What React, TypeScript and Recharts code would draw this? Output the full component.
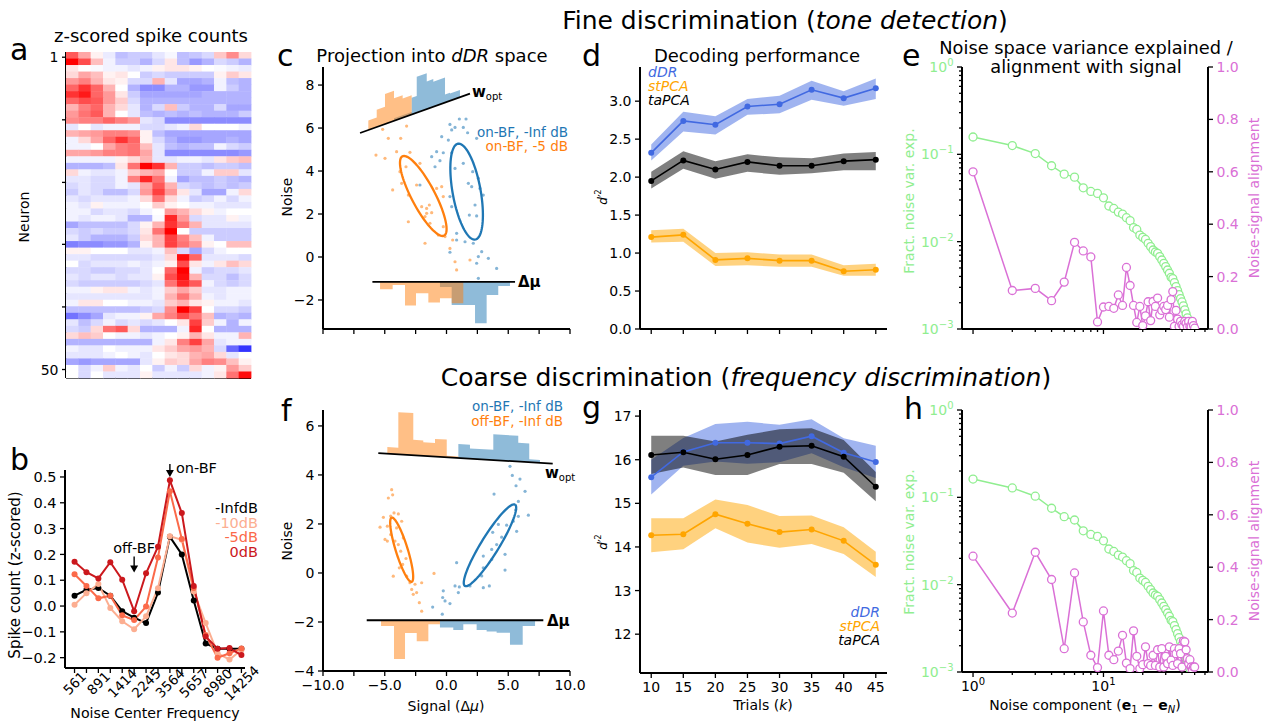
import React from 'react';
import { ComposedChart, Scatter, Line, Area, XAxis, YAxis } from 'recharts';

const FONT = '"DejaVu Sans", sans-serif';
const BLUE = '#1f77b4';
const ORANGE = '#ff7f0e';
const ROYAL = '#4169e1';
const GOLD = '#ffa500';
const LGREEN = '#90ee90';
const ORCHID = '#da70d6';

// ================= Panel a: z-scored spike counts (50 neurons x 15 frequencies) =================
const heatRows: number[][] = [
  [0.65, 0.35, 0.05, -0.08, -0.25, -0.2, -0.2, -0.1, -0.03, -0.25, -0.22, -0.15, 0.22, 0.45, 0.15],
  [1.0, 0.7, 0.25, -0.05, -0.2, -0.2, -0.3, -0.15, 0.1, -0.25, -0.4, -0.3, -0.15, -0.2, -0.3],
  [0.1, 0.0, -0.02, -0.05, -0.05, -0.1, -0.05, 0.05, 0.1, 0.1, 0.05, 0.0, -0.02, -0.05, -0.08],
  [0.15, 0.35, 0.25, 0.05, 0.1, 0.0, -0.2, -0.15, -0.2, -0.2, -0.2, -0.2, 0.05, 0.2, 0.1],
  [0.4, 0.5, 0.3, 0.1, 0.05, -0.15, -0.15, 0.3, -0.1, -0.35, -0.35, -0.3, -0.05, -0.25, -0.3],
  [0.6, 0.8, 0.6, 0.3, 0.0, -0.3, -0.45, -0.45, -0.3, -0.3, -0.4, -0.4, -0.05, -0.2, -0.3],
  [0.8, 0.9, 0.6, 0.4, 0.1, -0.2, -0.35, -0.35, -0.35, -0.35, -0.35, -0.3, -0.3, -0.3, -0.3],
  [0.6, 0.7, 0.65, 0.4, 0.2, -0.15, -0.3, -0.3, -0.3, -0.3, -0.3, -0.3, -0.3, -0.3, -0.3],
  [0.3, 0.5, 0.6, 0.3, 0.15, -0.1, -0.3, -0.15, 0.25, -0.2, -0.3, -0.3, -0.15, -0.35, -0.35],
  [0.4, 0.55, 0.65, 0.3, 0.0, -0.1, -0.25, -0.3, -0.25, -0.3, -0.25, -0.3, -0.3, -0.3, -0.2],
  [0.45, 0.5, 0.5, 0.6, 0.5, 0.4, -0.1, -0.15, -0.45, -0.45, -0.45, -0.45, -0.45, -0.45, -0.45],
  [-0.1, 0.0, -0.1, -0.05, -0.05, -0.05, -0.15, -0.15, -0.1, -0.05, 0.15, 0.0, 0.0, 0.0, -0.05],
  [0.3, 0.35, 0.4, 0.5, 0.5, 0.45, 0.05, -0.25, -0.35, -0.35, -0.35, -0.35, -0.35, -0.35, -0.35],
  [-0.05, 0.15, 0.35, 0.6, 0.8, 0.6, 0.05, -0.15, -0.3, -0.4, -0.4, -0.35, -0.35, -0.3, -0.35],
  [-0.05, -0.05, 0.0, 0.35, 0.5, 0.55, 0.25, -0.1, -0.25, -0.3, -0.25, -0.25, -0.05, -0.15, -0.2],
  [0.35, 0.35, 0.4, 0.5, 0.5, 0.55, 0.35, -0.1, -0.45, -0.45, -0.45, -0.45, -0.45, -0.45, -0.4],
  [-0.05, -0.05, -0.05, -0.05, 0.05, 0.15, 0.3, -0.1, -0.1, -0.05, -0.05, -0.1, 0.1, 0.2, 0.25],
  [-0.3, -0.3, -0.3, -0.25, 0.1, 0.55, 1.0, 0.8, 0.3, -0.2, -0.2, -0.25, -0.2, -0.2, -0.25],
  [0.15, -0.05, -0.1, -0.1, -0.05, 0.2, 0.3, 0.35, 0.0, -0.2, -0.2, -0.05, 0.2, 0.2, -0.1],
  [-0.1, -0.1, -0.15, -0.15, -0.05, 0.5, 0.85, 0.55, -0.05, -0.35, -0.25, -0.25, -0.2, -0.25, -0.3],
  [-0.15, -0.1, -0.15, -0.15, -0.05, -0.1, 0.35, 0.65, 0.3, -0.15, -0.2, -0.25, -0.2, -0.25, -0.2],
  [-0.2, -0.1, -0.15, -0.25, -0.25, -0.15, 0.4, 0.75, 0.4, 0.1, -0.1, -0.35, -0.35, -0.05, 0.15],
  [-0.1, -0.15, -0.1, -0.1, -0.1, -0.05, 0.15, 0.55, 0.15, -0.05, -0.2, -0.15, -0.05, -0.15, -0.05],
  [-0.05, -0.1, 0.05, -0.05, -0.05, -0.05, 0.0, 0.2, 0.05, 0.0, -0.05, -0.05, -0.1, -0.1, -0.1],
  [-0.05, -0.05, -0.15, -0.1, -0.1, -0.15, -0.05, 0.0, 0.4, 0.3, 0.15, 0.05, -0.05, 0.0, 0.0],
  [-0.05, -0.1, -0.05, -0.05, -0.1, -0.3, -0.3, -0.02, 0.85, 0.4, -0.15, -0.1, -0.1, 0.05, -0.05],
  [-0.35, -0.25, -0.25, -0.25, -0.25, -0.15, 0.05, 0.3, 0.8, 0.55, 0.3, -0.1, -0.1, -0.1, -0.1],
  [-0.15, -0.2, -0.15, -0.2, -0.2, -0.15, 0.1, 0.55, 1.0, 0.0, -0.2, -0.2, -0.2, -0.2, -0.2],
  [-0.1, -0.2, -0.3, -0.3, -0.3, -0.2, 0.15, 0.3, 0.75, 0.5, 0.25, -0.05, -0.2, -0.2, -0.2],
  [-0.5, -0.45, -0.45, -0.4, -0.4, -0.3, 0.05, 0.3, 0.75, 0.55, 0.4, 0.05, 0.0, 0.25, 0.25],
  [0.05, 0.05, 0.0, 0.0, 0.0, -0.1, -0.1, -0.05, 0.25, -0.15, -0.35, -0.15, -0.05, 0.0, 0.0],
  [-0.1, -0.1, -0.15, -0.15, -0.15, -0.15, -0.15, -0.1, 0.15, 0.95, 0.6, -0.1, -0.1, -0.1, -0.15],
  [0.0, -0.15, -0.1, -0.1, -0.1, -0.05, -0.1, -0.05, 0.05, 0.7, 0.1, -0.05, 0.1, 0.25, 0.15],
  [-0.15, -0.15, -0.2, -0.2, -0.15, -0.15, -0.1, 0.0, 0.6, 1.0, -0.05, -0.2, -0.15, -0.15, -0.1],
  [-0.1, -0.15, -0.1, -0.1, -0.15, -0.1, -0.1, 0.05, 0.7, 0.95, 0.3, -0.15, -0.15, -0.25, -0.15],
  [-0.15, -0.2, -0.2, -0.2, -0.2, -0.2, -0.15, -0.1, 0.55, 0.85, 0.65, -0.05, -0.15, -0.2, -0.15],
  [-0.05, -0.05, 0.05, 0.1, 0.1, -0.05, -0.1, -0.05, 0.2, 0.35, 0.2, -0.1, -0.1, -0.05, -0.05],
  [-0.1, -0.1, -0.1, -0.1, -0.1, -0.1, -0.1, -0.05, 0.3, 0.55, 0.3, -0.05, -0.1, -0.05, -0.05],
  [-0.05, 0.1, 0.1, 0.0, 0.0, -0.05, -0.05, -0.1, 0.2, 0.3, 0.1, 0.05, -0.05, -0.05, -0.1],
  [-0.25, -0.25, -0.25, -0.25, -0.25, -0.25, -0.2, -0.15, 0.45, 1.0, 0.75, 0.0, -0.15, -0.15, -0.2],
  [-0.55, -0.45, -0.35, -0.1, -0.05, -0.05, 0.05, 0.35, 0.5, 0.7, 0.55, 0.25, -0.3, -0.25, -0.3],
  [-0.1, -0.25, -0.15, -0.05, -0.15, -0.1, -0.15, -0.1, 0.0, 0.1, 0.75, 0.2, -0.05, -0.3, -0.05],
  [-0.15, -0.2, 0.15, 0.55, 0.65, 0.15, -0.3, -0.3, -0.3, -0.05, 0.85, 0.0, -0.3, -0.3, -0.3],
  [0.15, 0.25, 0.2, 0.0, -0.05, -0.05, -0.1, -0.05, 0.0, 0.05, 0.3, 0.1, -0.05, -0.05, 0.3],
  [-0.3, -0.3, -0.3, -0.3, -0.3, -0.3, -0.3, -0.05, 0.1, 0.5, 0.75, 0.35, -0.1, -0.05, -0.05],
  [-0.05, -0.1, -0.1, 0.0, -0.05, -0.05, -0.05, 0.1, 0.2, 0.35, 0.4, 0.3, -0.15, -0.6, -0.8],
  [-0.1, -0.1, -0.1, -0.05, 0.0, -0.05, -0.1, 0.0, 0.1, 0.15, 0.3, 0.35, 0.15, -0.1, 0.0],
  [-0.35, -0.4, -0.35, -0.35, -0.35, -0.35, -0.1, 0.05, 0.2, 0.15, 0.35, 0.5, 0.45, 0.25, 0.05],
  [0.0, -0.15, -0.05, 0.2, -0.05, -0.1, 0.0, -0.2, -0.05, -0.2, 0.15, -0.05, 0.05, 0.4, 0.2],
  [0.0, -0.15, 0.0, -0.1, -0.1, -0.1, 0.05, -0.1, -0.1, -0.1, -0.1, -0.05, 0.1, 0.55, 0.95],
];
const neuronTicks = [0.3, 9.9, 19.5, 29.0, 38.6, 48.2];
const neuronTickLabels = ['1', '', '', '', '', '50'];

// ================= Panel b: tuning curves =================
const freqLabels = ['561', '707', '891', '1122', '1414', '1782', '2245', '2828', '3564', '4490', '5657', '7127', '8980', '11314', '14254'];
const freqTickIdx = [0, 1, 2, 3, 4, 5, 6, 7, 8, 9, 10, 11, 12, 13, 14];
const respInfdB = [0.04, 0.063, 0.07, 0.04, -0.02, -0.045, -0.066, 0.052, 0.268, 0.2, 0.021, -0.145, -0.165, -0.165, -0.165];
const resp10dB = [0.005, 0.05, 0.085, -0.008, -0.059, -0.09, -0.04, 0.069, 0.27, 0.257, 0.056, -0.066, -0.183, -0.207, -0.17];
const resp5dB = [0.123, 0.078, 0.03, 0.04, -0.036, -0.054, -0.002, 0.188, 0.445, 0.26, 0.07, -0.112, -0.2, -0.183, -0.164];
const resp0dB = [0.172, 0.131, 0.107, 0.17, 0.102, -0.02, 0.127, 0.23, 0.487, 0.36, 0.078, -0.118, -0.165, -0.163, -0.19];
const bSeriesNames = ['-InfdB', '-10dB', '-5dB', '0dB'];
const bSeriesColors = ['#000000', '#fcae91', '#fb6a4a', '#cb181d'];
const bArrows = [
  { x: 8, y: 0.5, len: 13, label: 'on-BF', side: 'right' },
  { x: 5, y: 0.13, len: 16, label: 'off-BF', side: 'top' },
];

// ================= Panel c / f: dDR projections =================
const cOrangePts = [[-5.17, 5.94], [-4.71, 5.52], [-3.71, 5.52], [-3.23, 6.09], [-5.71, 4.74], [-4.98, 4.59], [-4.04, 4.9], [-2.96, 4.87], [-3.28, 4.2], [-4.36, 3.12], [-3.77, 3.97], [-2.15, 4.36], [-3.63, 3.43], [-3.09, 2.88], [-2.42, 3.35], [-2.01, 2.34], [-1.61, 2.26], [-1.39, 2.42], [-1.61, 2.03], [-1.2, 2.06], [-0.8, 3.19], [-0.39, 3.27], [-0.26, 2.81], [-1.34, 1.57], [-1.74, 1.88], [-3.09, 1.64], [-0.66, 1.02], [-0.12, 0.95], [0.5, 0.79], [-0.26, 1.41], [-1.74, 0.64], [1.9, -0.14], [0.69, -0.22], [0.82, -0.6], [0.28, 0.4]];
const cBluePts = [[0.28, 6.17], [0.69, 6.03], [1.04, 6.42], [1.58, 6.42], [1.36, 6.03], [0.42, 5.91], [1.71, 5.78], [-0.39, 5.6], [0.15, 5.44], [2.44, 5.52], [-0.8, 4.9], [-0.26, 4.85], [0.42, 4.85], [-1.2, 4.67], [-0.53, 4.48], [-0.93, 4.2], [1.36, 4.36], [0.69, 4.12], [2.12, 3.97], [2.58, 3.66], [1.77, 3.43], [2.04, 3.27], [2.98, 2.88], [2.71, 3.19], [2.31, 2.42], [2.44, 1.91], [1.85, 1.95], [0.42, 2.34], [0.28, 2.81], [-2.15, 3.35], [0.82, 1.1], [0.82, 0.79], [2.17, 0.64], [1.5, 0.71], [0.28, 0.22], [2.85, 0.25], [2.58, 0.02], [3.39, -0.06], [4.06, -0.53], [2.58, -0.99], [2.44, -0.29]];
const fOrangePts = [[-4.44, 3.4], [-4.36, 3.19], [-4.71, 3.06], [-5.11, 2.27], [-5.38, 1.87], [-4.79, 1.91], [-4.52, 2.32], [-4.25, 2.45], [-3.9, 2.41], [-3.63, 2.11], [-4.04, 1.84], [-4.52, 1.57], [-4.17, 1.3], [-3.9, 1.16], [-3.5, 1.43], [-3.71, 0.89], [-3.28, 0.59], [-3.55, 0.35], [-4.31, -0.13], [-3.82, 0.21], [-3.23, -0.13], [-2.96, -0.4], [-2.55, -0.46], [-2.82, -0.67], [-2.69, -0.87], [-2.42, -0.8], [-2.01, -0.4], [-2.2, -1.21], [-2.01, -1.56], [-1.01, -0.02], [-4.79, 1.3], [-4.98, 1.37]];
const fBluePts = [[5.14, 4.35], [5.33, 3.98], [5.95, 3.83], [5.63, 3.56], [3.85, 3.22], [6.36, 3.33], [5.82, 2.92], [5.6, 2.58], [5.82, 2.31], [6.63, 2.36], [5.41, 2.11], [4.87, 1.95], [5.68, 1.7], [4.2, 1.98], [3.74, 1.66], [4.47, 1.46], [4.06, 1.16], [3.66, 0.96], [4.74, 0.76], [2.98, 0.69], [3.66, 0.55], [2.98, 0.21], [4.74, 0.12], [2.85, -0.12], [0.82, 0.42], [0.69, -0.53], [1.04, -0.57], [0.96, -0.8], [1.9, -0.53], [2.98, -0.6], [3.47, -0.53], [-0.26, -0.73], [-0.31, -1.0], [0.28, -1.25], [-0.12, -1.14], [-1.12, -1.39], [-0.34, -1.68]];

// covariance ellipses: center, major half-axis vector, minor half-axis vector (data units)
const cOrangeEllipse = { c: [-1.88, 2.84], a: [1.69, -1.845], b: [0.84, 0.253] };
const cBlueEllipse = { c: [1.63, 3.04], a: [0.7, -2.23], b: [1.117, 0.116] };
const fOrangeEllipse = { c: [-3.63, 0.95], a: [-0.81, 1.31], b: [0.46, 0.072] };
const fBlueEllipse = { c: [3.52, 1.13], a: [2.03, 1.66], b: [0.62, -0.19] };

// axis lines (w_opt and delta-mu), endpoints in data units
const cWoptX = [-7.0, 1.9];
const cWoptY = [5.77, 7.6];
const cDmuX = [-6.0, 5.55];
const cDmuY = [-1.16, -1.16];
const fWoptX = [-5.52, 8.6];
const fWoptY = [4.89, 4.46];
const fDmuX = [-6.46, 7.84];
const fDmuY = [-1.93, -1.93];

// projection histograms: bin edges along x and bar heights (data units)
const cTopOrangeEdges = [-6.33, -5.65, -4.98, -4.25, -3.55, -2.82];
const cTopOrangeH = [0.44, 0.8, 1.4, 1.05, 0.9];
const cTopBlueEdges = [-4.25, -2.82, -2.41, -1.6, -1.07, -0.12, 0.28, 1.09];
const cTopBlueH = [0.12, 0.78, 1.67, 1.29, 1.17, 0.38, 0.34];
const cBotOrangeEdges = [-5.38, -4.36, -3.36, -2.47, -1.47, -0.53, 0.42, 1.36];
const cBotOrangeH = [0.34, 0.14, 1.1, 0.53, 0.96, 0.76, 0.99];
const cBotBlueEdges = [-0.53, 0.42, 1.36, 2.31, 3.25, 4.19, 5.14];
const cBotBlueH = [0.24, 1.07, 1.07, 1.92, 0.61, 0.19];
const fTopOrangeEdges = [-4.79, -3.9, -2.69, -1.88, -0.93, 0.02, 0.96];
const fTopOrangeH = [0.27, 1.72, 0.63, 0.55, 0.72, 0.06];
const fTopBlueEdges = [0.96, 1.9, 3.79, 5.81, 6.7, 7.57];
const fTopBlueH = [0.57, 0.42, 1.05, 0.77, 0.12];
const fBotOrangeEdges = [-5.3, -4.25, -3.36, -2.41, -1.47, -0.53];
const fBotOrangeH = [0.23, 1.58, 0.52, 0.86, 0.16];
const fBotBlueEdges = [-0.53, 0.55, 1.36, 2.44, 3.25, 4.06, 5.14, 6.17, 7.17];
const fBotBlueH = [0.29, 0.4, 0.16, 0.4, 0.46, 0.51, 1.0, 0.23];

const signalTicks = [-10, -7.5, -5, -2.5, 0, 2.5, 5, 7.5, 10];

// ================= Panel d / g: decoding performance =================
const trials = [10, 15, 20, 25, 30, 35, 40, 45];
const dDRfine = [2.32, 2.74, 2.69, 2.93, 2.96, 3.15, 3.04, 3.17];
const dDRfineLo = [2.22, 2.6, 2.56, 2.82, 2.84, 3.02, 2.94, 3.03];
const dDRfineHi = [2.43, 2.86, 2.8, 3.03, 3.07, 3.27, 3.13, 3.3];
const stPCAfine = [1.21, 1.24, 0.91, 0.93, 0.9, 0.9, 0.76, 0.78];
const stPCAfineLo = [1.14, 1.15, 0.83, 0.84, 0.82, 0.82, 0.7, 0.7];
const stPCAfineHi = [1.3, 1.32, 1.0, 1.01, 0.98, 0.98, 0.84, 0.86];
const taPCAfine = [1.95, 2.22, 2.1, 2.2, 2.15, 2.15, 2.21, 2.23];
const taPCAfineLo = [1.85, 2.11, 1.98, 2.07, 2.03, 2.05, 2.09, 2.09];
const taPCAfineHi = [2.07, 2.34, 2.21, 2.3, 2.26, 2.25, 2.31, 2.33];

const dDRcoarse = [15.6, 16.18, 16.39, 16.39, 16.37, 16.54, 16.16, 15.95];
const dDRcoarseLo = [15.2, 15.86, 15.96, 15.91, 15.94, 16.15, 15.83, 15.58];
const dDRcoarseHi = [16.0, 16.5, 16.82, 16.87, 16.8, 16.93, 16.49, 16.32];
const stPCAcoarse = [14.27, 14.29, 14.75, 14.53, 14.34, 14.4, 14.14, 13.59];
const stPCAcoarseLo = [13.88, 13.95, 14.43, 14.1, 13.98, 14.07, 13.84, 13.31];
const stPCAcoarseHi = [14.66, 14.66, 15.09, 14.96, 14.71, 14.72, 14.45, 13.89];
const taPCAcoarse = [16.11, 16.17, 16.01, 16.11, 16.3, 16.32, 16.07, 15.38];
const taPCAcoarseLo = [15.67, 15.82, 15.65, 15.65, 15.9, 15.9, 15.7, 15.05];
const taPCAcoarseHi = [16.55, 16.55, 16.42, 16.57, 16.7, 16.72, 16.45, 15.72];

// ================= Panel e / h: noise space =================
const components = Array.from({ length: 50 }, (_, i) => i + 1);
const varExpFine = [0.158, 0.126, 0.102, 0.074, 0.0593, 0.0548, 0.0414, 0.0376, 0.0357, 0.0318, 0.0256, 0.024, 0.0218, 0.0207, 0.0188, 0.0174, 0.0145, 0.0138, 0.0119, 0.0112, 0.0106, 0.00957, 0.00877, 0.00803, 0.00762, 0.00736, 0.00674, 0.00617, 0.00565, 0.00518, 0.00474, 0.00435, 0.00391, 0.00378, 0.0034, 0.00306, 0.00275, 0.00248, 0.00223, 0.00204, 0.00184, 0.00166, 0.00149, 0.00134, 0.00121, 0.00109, 0.00095, 0.00082, 0.0007, 0.0006];
const alignFine = [0.6, 0.147, 0.155, 0.108, 0.179, 0.331, 0.298, 0.275, 0.027, 0.084, 0.086, 0.079, 0.13, 0.09, 0.235, 0.166, 0.09, 0.025, 0.086, 0.013, 0.05, 0.104, 0.032, 0.105, 0.086, 0.118, 0.054, 0.071, 0.086, 0.074, 0.09, 0.045, 0.112, 0.143, 0.01, 0.071, 0.038, 0.01, 0.029, 0.016, 0.01, 0.029, 0.022, 0.008, 0.029, 0.01, 0.008, 0.029, 0.013, 0.003];
const varExpCoarse = [0.162, 0.128, 0.103, 0.075, 0.06, 0.055, 0.0414, 0.0376, 0.0357, 0.0318, 0.0256, 0.024, 0.0218, 0.0207, 0.0188, 0.0174, 0.0145, 0.0138, 0.0119, 0.0112, 0.0106, 0.00957, 0.00877, 0.00803, 0.00762, 0.00736, 0.00674, 0.00617, 0.00565, 0.00518, 0.00474, 0.00435, 0.00391, 0.00378, 0.0034, 0.00306, 0.00275, 0.00248, 0.00223, 0.00204, 0.00184, 0.00166, 0.00149, 0.00134, 0.00121, 0.00109, 0.00095, 0.00082, 0.0007, 0.0006];
const alignCoarse = [0.442, 0.225, 0.457, 0.353, 0.089, 0.378, 0.191, 0.064, 0.017, 0.233, 0.064, 0.047, 0.08, 0.14, 0.034, 0.013, 0.157, 0.06, 0.013, 0.028, 0.096, 0.032, 0.025, 0.064, 0.025, 0.085, 0.019, 0.089, 0.019, 0.06, 0.032, 0.096, 0.045, 0.025, 0.089, 0.07, 0.032, 0.089, 0.07, 0.019, 0.118, 0.115, 0.085, 0.051, 0.032, 0.047, 0.019, 0.009, 0.019, 0.019];
const logXTicks = [1, 2, 3, 4, 5, 6, 7, 8, 9, 10, 20, 30, 40, 50, 60];
const logYTicks = [0.001, 0.002, 0.003, 0.004, 0.005, 0.006, 0.007, 0.008, 0.009, 0.01, 0.02, 0.03, 0.04, 0.05, 0.06, 0.07, 0.08, 0.09, 0.1, 0.2, 0.3, 0.4, 0.5, 0.6, 0.7, 0.8, 0.9, 1];
const alignTicks = [0, 0.2, 0.4, 0.6, 0.8, 1.0];

// ================= helpers =================
const AX = { stroke: '#000', strokeWidth: 2 };
const PL = 80, PR = 80, PT = 20, PB = 70;

const minus = (s: string) => s.replace('-', '\u2212');
const f1 = (v: number) => minus(v.toFixed(1));
const isMajorLog = (v: number) => Math.abs(Math.log10(v) - Math.round(Math.log10(v))) < 1e-9;
const pow10 = (v: number) => {
  const e = Math.round(Math.log10(v));
  return (
    <>
      <tspan>10</tspan>
      <tspan dy={-6} fontSize={10}>{e < 0 ? '\u2212' + -e : String(e)}</tspan>
    </>
  );
};

const mkTick = (cfg: any) => (p: any) => {
  const x = Number(p.x), y = Number(p.y);
  const v = Number(p.payload && p.payload.value);
  const L = cfg.len ? cfg.len(v) : 5;
  const lab = cfg.fmt ? cfg.fmt(v) : null;
  const has = lab !== null && lab !== undefined && lab !== '';
  const fs = cfg.fs || 14;
  const col = cfg.color || '#000';
  const tl = { stroke: '#000', strokeWidth: 1.3 };
  if (cfg.side === 'left') {
    return (
      <g>
        {L > 0 ? <line x1={x} y1={y} x2={x - L} y2={y} {...tl} /> : null}
        {has ? <text x={x - L - 3.5} y={y} dy="0.36em" textAnchor="end" fontSize={fs} fill={col} fontFamily={FONT}>{lab}</text> : null}
      </g>
    );
  }
  if (cfg.side === 'right') {
    return (
      <g>
        {L > 0 ? <line x1={x} y1={y} x2={x + L} y2={y} {...tl} /> : null}
        {has ? <text x={x + L + 3.5} y={y} dy="0.36em" textAnchor="start" fontSize={fs} fill={col} fontFamily={FONT}>{lab}</text> : null}
      </g>
    );
  }
  if (cfg.rot) {
    const cx = x, cy = y + cfg.rotOffset;
    return (
      <g>
        <line x1={x} y1={y} x2={x} y2={y + L} {...tl} />
        {has ? <text x={cx} y={cy} textAnchor="middle" dominantBaseline="central" transform={`rotate(-45 ${cx} ${cy})`} fontSize={fs} fill={col} fontFamily={FONT}>{lab}</text> : null}
      </g>
    );
  }
  return (
    <g>
      {L > 0 ? <line x1={x} y1={y} x2={x} y2={y + L} {...tl} /> : null}
      {has ? <text x={x} y={y + L + 3.5} dy="0.76em" textAnchor="middle" fontSize={fs} fill={col} fontFamily={FONT}>{lab}</text> : null}
    </g>
  );
};

const bwr = (v: number) => {
  const t = Math.max(-1, Math.min(1, v));
  if (t >= 0) {
    const g = Math.round(255 * (1 - t));
    return `rgb(255,${g},${g})`;
  }
  const g = Math.round(255 * (1 + t));
  return `rgb(${g},${g},255)`;
};

const toXY = (pts: number[][]) => pts.map(([x, y]) => ({ x, y }));
const seriesXY = (xs: number[], ys: number[]) => ys.map((y, i) => ({ x: xs[i], y }));
const ellipsePts = (e: any) => {
  const out: any[] = [];
  for (let k = 0; k <= 90; k++) {
    const t = (2 * Math.PI * k) / 90;
    out.push({ x: e.c[0] + Math.cos(t) * e.a[0] + Math.sin(t) * e.b[0], y: e.c[1] + Math.cos(t) * e.a[1] + Math.sin(t) * e.b[1] });
  }
  return out;
};
// polygon of a histogram resting on a straight base line (dir=+1 above, -1 below)
const histPoly = (edges: number[], heights: number[], lx: number[], ly: number[], dir: number) => {
  const base = (x: number) => ly[0] + ((ly[1] - ly[0]) * (x - lx[0])) / (lx[1] - lx[0]);
  const pts: any[] = [];
  heights.forEach((h, i) => {
    [edges[i], edges[i + 1]].forEach((x) => {
      const b = base(x);
      pts.push({ x, lo: dir > 0 ? b : b - h, hi: dir > 0 ? b + h : b });
    });
  });
  return pts;
};
const bandRows = (mid: number[], lo: number[], hi: number[]) => trials.map((t, i) => ({ x: t, y: mid[i], lo: lo[i], hi: hi[i] }));

type Box = { x: number; y: number; w: number; h: number };
const BOX: Record<string, Box> = {
  a: { x: 66, y: 52, w: 185, h: 326 },
  b: { x: 65, y: 470, w: 180, h: 198 },
  c: { x: 323, y: 67, w: 247, h: 262 },
  d: { x: 640, y: 67, w: 247, h: 262 },
  e: { x: 962, y: 67, w: 246, h: 262 },
  f: { x: 323, y: 410, w: 247, h: 261 },
  g: { x: 640, y: 410, w: 247, h: 263 },
  h: { x: 962, y: 410, w: 246, h: 262 },
};

function Panel({ box, right, children }: any) {
  return (
    <div style={{ position: 'absolute', left: box.x - PL, top: box.y - PT }}>
      <ComposedChart width={box.w + PL + PR} height={box.h + PT + PB} margin={{ top: PT, right: right ? 0 : PR, bottom: 0, left: 0 }}>
        {children}
      </ComposedChart>
    </div>
  );
}

const noTickProps = { tickLine: false, tickSize: 0, tickMargin: 0, interval: 0 as const };

// ================= panels =================
function PanelA() {
  const cells = heatRows.flatMap((row, r) => row.map((v, c) => ({ c, r, v })));
  const cw = BOX.a.w / 15, ch = BOX.a.h / 50;
  return (
    <Panel box={BOX.a}>
      <XAxis type="number" dataKey="c" domain={[-0.5, 14.5]} height={PB} tick={false} tickLine={false} axisLine={AX} />
      <YAxis type="number" dataKey="r" domain={[-0.5, 49.5]} reversed width={PL} ticks={neuronTicks} {...noTickProps} axisLine={AX}
        tick={mkTick({ side: 'left', len: () => 4, fmt: (v: number) => neuronTickLabels[neuronTicks.indexOf(v)] })} />
      <Scatter data={cells} isAnimationActive={false}
        shape={(p: any) => <rect x={p.cx - cw / 2} y={p.cy - ch / 2} width={cw + 0.4} height={ch + 0.4} fill={bwr(p.payload.v)} />} />
    </Panel>
  );
}

function PanelB() {
  const all = [respInfdB, resp10dB, resp5dB, resp0dB];
  const idx = freqLabels.map((_, i) => i);
  return (
    <Panel box={BOX.b}>
      <XAxis type="number" dataKey="x" domain={[-0.8, 14.3]} height={PB} ticks={freqTickIdx} {...noTickProps} axisLine={AX}
        tick={mkTick({ side: 'bottom', rot: true, rotOffset: 15, fs: 13.5, len: () => 5, fmt: (v: number) => (v % 2 === 0 ? freqLabels[v] : null) })} />
      <YAxis type="number" dataKey="y" domain={[-0.24, 0.527]} width={PL} ticks={[-0.2, -0.1, 0, 0.1, 0.2, 0.3, 0.4, 0.5]} {...noTickProps} axisLine={AX}
        tick={mkTick({ side: 'left', len: () => 5, fmt: f1, fs: 14.5 })} />
      {all.map((s, k) => (
        <Line key={bSeriesNames[k]} data={seriesXY(idx, s)} dataKey="y" type="linear" stroke={bSeriesColors[k]} strokeWidth={2}
          dot={{ r: 3, fill: bSeriesColors[k], stroke: bSeriesColors[k], strokeWidth: 0 }} activeDot={false} isAnimationActive={false} />
      ))}
      <Scatter data={bArrows} isAnimationActive={false}
        shape={(p: any) => {
          const { cx, cy, payload } = p;
          return (
            <g>
              <line x1={cx} y1={cy - payload.len} x2={cx} y2={cy - 5} stroke="#000" strokeWidth={1.4} />
              <path d={`M${cx - 4},${cy - 7} L${cx + 4},${cy - 7} L${cx},${cy} Z`} fill="#000" />
              {payload.side === 'right' ? (
                <text x={cx + 6} y={cy - 4} fontSize={14.5} fontFamily={FONT} fill="#000">{payload.label}</text>
              ) : (
                <text x={cx} y={cy - payload.len - 3} textAnchor="middle" fontSize={14.5} fontFamily={FONT} fill="#000">{payload.label}</text>
              )}
            </g>
          );
        }} />
    </Panel>
  );
}

const dotShape = (color: string) => (p: any) => <circle cx={p.cx} cy={p.cy} r={1.6} fill={color} fillOpacity={0.55} />;

function ProjectionPanel({ box, yDomain, yTicks, labels, orangePts, bluePts, eo, eb, woptX, woptY, dmuX, dmuY, hist }: any) {
  return (
    <Panel box={box}>
      <XAxis type="number" dataKey="x" domain={[-10, 10]} height={PB} ticks={signalTicks} allowDataOverflow {...noTickProps} axisLine={AX}
        tick={mkTick({ side: 'bottom', len: () => 5, fmt: labels ? (v: number) => (v % 5 === 0 ? f1(v) : null) : () => null })} />
      <YAxis type="number" dataKey="y" domain={yDomain} width={PL} ticks={yTicks} allowDataOverflow {...noTickProps} axisLine={AX}
        tick={mkTick({ side: 'left', len: () => 5, fmt: (v: number) => minus(String(v)) })} />
      <Scatter data={toXY(orangePts)} isAnimationActive={false} shape={dotShape(ORANGE)} />
      <Scatter data={toXY(bluePts)} isAnimationActive={false} shape={dotShape(BLUE)} />
      <Line data={ellipsePts(eo)} dataKey="y" type="linear" stroke={ORANGE} strokeWidth={2.3} dot={false} activeDot={false} isAnimationActive={false} />
      <Line data={ellipsePts(eb)} dataKey="y" type="linear" stroke={BLUE} strokeWidth={2.3} dot={false} activeDot={false} isAnimationActive={false} />
      <Area data={histPoly(hist.topBlueE, hist.topBlueH, woptX, woptY, 1)} dataKey={(d: any) => [d.lo, d.hi]} type="linear" stroke="none" fill={BLUE} fillOpacity={0.5} dot={false} activeDot={false} isAnimationActive={false} />
      <Area data={histPoly(hist.topOrangeE, hist.topOrangeH, woptX, woptY, 1)} dataKey={(d: any) => [d.lo, d.hi]} type="linear" stroke="none" fill={ORANGE} fillOpacity={0.5} dot={false} activeDot={false} isAnimationActive={false} />
      <Area data={histPoly(hist.botBlueE, hist.botBlueH, dmuX, dmuY, -1)} dataKey={(d: any) => [d.lo, d.hi]} type="linear" stroke="none" fill={BLUE} fillOpacity={0.5} dot={false} activeDot={false} isAnimationActive={false} />
      <Area data={histPoly(hist.botOrangeE, hist.botOrangeH, dmuX, dmuY, -1)} dataKey={(d: any) => [d.lo, d.hi]} type="linear" stroke="none" fill={ORANGE} fillOpacity={0.5} dot={false} activeDot={false} isAnimationActive={false} />
      <Line data={seriesXY(woptX, woptY)} dataKey="y" type="linear" stroke="#000" strokeWidth={1.8} dot={false} activeDot={false} isAnimationActive={false} />
      <Line data={seriesXY(dmuX, dmuY)} dataKey="y" type="linear" stroke="#000" strokeWidth={1.8} dot={false} activeDot={false} isAnimationActive={false} />
    </Panel>
  );
}

function DecodingPanel({ box, yDomain, yTicks, fmt, xLabels, sets }: any) {
  return (
    <Panel box={box}>
      <XAxis type="number" dataKey="x" domain={[8.25, 46.75]} height={PB} ticks={trials} {...noTickProps} axisLine={AX}
        tick={mkTick({ side: 'bottom', len: () => 5, fmt: xLabels ? (v: number) => String(v) : () => null })} />
      <YAxis type="number" domain={yDomain} width={PL} ticks={yTicks} allowDataOverflow {...noTickProps} axisLine={AX}
        tick={mkTick({ side: 'left', len: () => 5, fmt })} />
      {sets.map((s: any) => (
        <Area key={s.name + 'band'} data={s.rows} dataKey={(d: any) => [d.lo, d.hi]} type="linear" stroke="none" fill={s.color} fillOpacity={0.5} dot={false} activeDot={false} isAnimationActive={false} />
      ))}
      {sets.map((s: any) => (
        <Line key={s.name} data={s.rows} dataKey="y" type="linear" stroke={s.color} strokeWidth={1.6}
          dot={{ r: 3, fill: s.color, stroke: s.color, strokeWidth: 0 }} activeDot={false} isAnimationActive={false} />
      ))}
    </Panel>
  );
}

function NoisePanel({ box, varExp, align, xLabels }: any) {
  return (
    <Panel box={box} right>
      <XAxis type="number" dataKey="x" scale="log" domain={[0.823, 63.3]} allowDataOverflow height={PB} ticks={logXTicks} {...noTickProps} axisLine={AX}
        tick={mkTick({ side: 'bottom', len: (v: number) => (isMajorLog(v) ? 5 : 3), fmt: xLabels ? (v: number) => (isMajorLog(v) ? pow10(v) : null) : () => null })} />
      <YAxis yAxisId="l" type="number" scale="log" domain={[0.001, 1]} allowDataOverflow width={PL} ticks={logYTicks} {...noTickProps} axisLine={AX}
        tick={mkTick({ side: 'left', color: LGREEN, len: (v: number) => (isMajorLog(v) ? 5 : 3), fmt: (v: number) => (isMajorLog(v) ? pow10(v) : null) })} />
      <YAxis yAxisId="r" orientation="right" type="number" domain={[0, 1]} allowDataOverflow width={PR} ticks={alignTicks} {...noTickProps} axisLine={AX}
        tick={mkTick({ side: 'right', color: ORCHID, len: () => 5, fmt: f1 })} />
      <Line yAxisId="l" data={seriesXY(components, varExp)} dataKey="y" type="linear" stroke={LGREEN} strokeWidth={1.5}
        dot={{ r: 4, fill: '#fff', stroke: LGREEN, strokeWidth: 1.3 }} activeDot={false} isAnimationActive={false} />
      <Line yAxisId="r" data={seriesXY(components, align)} dataKey="y" type="linear" stroke={ORCHID} strokeWidth={1.5}
        dot={{ r: 4, fill: '#fff', stroke: ORCHID, strokeWidth: 1.3 }} activeDot={false} isAnimationActive={false} />
    </Panel>
  );
}

// ================= overlay text =================
const letters: [string, number, number][] = [['a', 10, 60], ['b', 10, 470], ['c', 277, 66], ['d', 582, 66], ['e', 902, 66], ['f', 281, 421], ['g', 582, 418], ['h', 904, 419]];

function RotLabel({ x, y, fs = 14, color = '#000', children }: any) {
  return (
    <text x={x} y={y} fontSize={fs} fill={color} textAnchor="middle" dominantBaseline="central" transform={`rotate(-90 ${x} ${y})`}>{children}</text>
  );
}

function Overlay() {
  return (
    <svg width={1276} height={723} style={{ position: 'absolute', left: 0, top: 0, pointerEvents: 'none' }} fontFamily={FONT}>
      <text x={785} y={29} fontSize={25} textAnchor="middle">Fine discrimination (<tspan fontStyle="italic">tone detection</tspan>)</text>
      <text x={746} y={386} fontSize={25} textAnchor="middle">Coarse discrimination (<tspan fontStyle="italic">frequency discrimination</tspan>)</text>
      {letters.map(([l, x, y]) => (
        <text key={l} x={x} y={y} fontSize={30}>{l}</text>
      ))}
      {/* a */}
      <text x={151} y={42} fontSize={18} textAnchor="middle">z-scored spike counts</text>
      <RotLabel x={24} y={217}>Neuron</RotLabel>
      {/* b */}
      <RotLabel x={15} y={575} fs={15}>Spike count (z-scored)</RotLabel>
      <text x={155} y={718} fontSize={14.2} textAnchor="middle">Noise Center Frequency</text>
      {bSeriesNames.map((n, k) => (
        <text key={n} x={258} y={513 + k * 14.7} fontSize={14.5} textAnchor="end" fill={bSeriesColors[k]}>{n}</text>
      ))}
      {/* c */}
      <text x={432} y={62} fontSize={18} textAnchor="middle">Projection into <tspan fontStyle="italic">dDR</tspan> space</text>
      <RotLabel x={287} y={197}>Noise</RotLabel>
      <text x={568} y={137} fontSize={13.5} textAnchor="end" fill={BLUE}>on-BF, -Inf dB</text>
      <text x={568} y={151} fontSize={13.5} textAnchor="end" fill={ORANGE}>on-BF, -5 dB</text>
      <text x={472} y={97} fontSize={15} fontWeight="bold">w<tspan fontSize={10} fontWeight="normal" dy={3}>opt</tspan></text>
      <text x={518} y={287} fontSize={15} fontWeight="bold">Δμ</text>
      {/* d */}
      <text x={757} y={62} fontSize={18} textAnchor="middle">Decoding performance</text>
      <RotLabel x={603} y={197} fs={12}><tspan fontStyle="italic">d</tspan>′<tspan dy={-5} fontSize={8}>2</tspan></RotLabel>
      <text x={648} y={77} fontSize={14} fontStyle="italic" fill={ROYAL}>dDR</text>
      <text x={648} y={91} fontSize={14} fontStyle="italic" fill={GOLD}>stPCA</text>
      <text x={648} y={105} fontSize={14} fontStyle="italic" fill="#000">taPCA</text>
      {/* e */}
      <text x={1086} y={54} fontSize={17.8} textAnchor="middle">Noise space variance explained /</text>
      <text x={1086} y={73} fontSize={17.8} textAnchor="middle">alignment with signal</text>
      <RotLabel x={909} y={201} color={LGREEN}>Fract. noise var. exp.</RotLabel>
      <RotLabel x={1254} y={198} color={ORCHID}>Noise-signal alignment</RotLabel>
      {/* f */}
      <RotLabel x={287} y={541}>Noise</RotLabel>
      <text x={446} y={711} fontSize={14} textAnchor="middle">Signal (Δ<tspan fontStyle="italic">μ</tspan>)</text>
      <text x={563} y={411} fontSize={13.5} textAnchor="end" fill={BLUE}>on-BF, -Inf dB</text>
      <text x={563} y={426} fontSize={13.5} textAnchor="end" fill={ORANGE}>off-BF, -Inf dB</text>
      <text x={545} y={478} fontSize={15} fontWeight="bold">w<tspan fontSize={10} fontWeight="normal" dy={3}>opt</tspan></text>
      <text x={547} y={626} fontSize={15} fontWeight="bold">Δμ</text>
      {/* g */}
      <RotLabel x={603} y={542} fs={12}><tspan fontStyle="italic">d</tspan>′<tspan dy={-5} fontSize={8}>2</tspan></RotLabel>
      <text x={763} y={710} fontSize={14} textAnchor="middle">Trials (<tspan fontStyle="italic">k</tspan>)</text>
      <text x={880} y={617} fontSize={14} fontStyle="italic" textAnchor="end" fill={ROYAL}>dDR</text>
      <text x={880} y={631} fontSize={14} fontStyle="italic" textAnchor="end" fill={GOLD}>stPCA</text>
      <text x={880} y={645} fontSize={14} fontStyle="italic" textAnchor="end" fill="#000">taPCA</text>
      {/* h */}
      <RotLabel x={909} y={542} color={LGREEN}>Fract. noise var. exp.</RotLabel>
      <RotLabel x={1254} y={541} color={ORCHID}>Noise-signal alignment</RotLabel>
      <text x={1085} y={710} fontSize={14} textAnchor="middle">
        Noise component (<tspan fontWeight="bold">e</tspan><tspan fontSize={10} dy={3}>1</tspan><tspan dy={-3}> − </tspan><tspan fontWeight="bold">e</tspan><tspan fontSize={10} dy={3} fontStyle="italic">N</tspan><tspan dy={-3}>)</tspan>
      </text>
    </svg>
  );
}

export default function App() {
  const cHist = { topOrangeE: cTopOrangeEdges, topOrangeH: cTopOrangeH, topBlueE: cTopBlueEdges, topBlueH: cTopBlueH, botOrangeE: cBotOrangeEdges, botOrangeH: cBotOrangeH, botBlueE: cBotBlueEdges, botBlueH: cBotBlueH };
  const fHist = { topOrangeE: fTopOrangeEdges, topOrangeH: fTopOrangeH, topBlueE: fTopBlueEdges, topBlueH: fTopBlueH, botOrangeE: fBotOrangeEdges, botOrangeH: fBotOrangeH, botBlueE: fBotBlueEdges, botBlueH: fBotBlueH };
  const fineSets = [
    { name: 'dDR', color: ROYAL, rows: bandRows(dDRfine, dDRfineLo, dDRfineHi) },
    { name: 'stPCA', color: GOLD, rows: bandRows(stPCAfine, stPCAfineLo, stPCAfineHi) },
    { name: 'taPCA', color: '#000', rows: bandRows(taPCAfine, taPCAfineLo, taPCAfineHi) },
  ];
  const coarseSets = [
    { name: 'dDR', color: ROYAL, rows: bandRows(dDRcoarse, dDRcoarseLo, dDRcoarseHi) },
    { name: 'stPCA', color: GOLD, rows: bandRows(stPCAcoarse, stPCAcoarseLo, stPCAcoarseHi) },
    { name: 'taPCA', color: '#000', rows: bandRows(taPCAcoarse, taPCAcoarseLo, taPCAcoarseHi) },
  ];
  return (
    <div style={{ position: 'absolute', left: 0, top: 0, width: 1276, height: 723, background: '#fff', fontFamily: FONT, overflow: 'hidden' }}>
      <PanelA />
      <PanelB />
      <ProjectionPanel box={BOX.c} yDomain={[-3.35, 8.84]} yTicks={[-2, 0, 2, 4, 6, 8]} labels={false}
        orangePts={cOrangePts} bluePts={cBluePts} eo={cOrangeEllipse} eb={cBlueEllipse}
        woptX={cWoptX} woptY={cWoptY} dmuX={cDmuX} dmuY={cDmuY} hist={cHist} />
      <DecodingPanel box={BOX.d} yDomain={[0, 3.45]} yTicks={[0, 0.5, 1, 1.5, 2, 2.5, 3]} fmt={f1} xLabels={false} sets={fineSets} />
      <NoisePanel box={BOX.e} varExp={varExpFine} align={alignFine} xLabels={false} />
      <ProjectionPanel box={BOX.f} yDomain={[-4, 6.65]} yTicks={[-4, -2, 0, 2, 4, 6]} labels
        orangePts={fOrangePts} bluePts={fBluePts} eo={fOrangeEllipse} eb={fBlueEllipse}
        woptX={fWoptX} woptY={fWoptY} dmuX={fDmuX} dmuY={fDmuY} hist={fHist} />
      <DecodingPanel box={BOX.g} yDomain={[11.11, 17.14]} yTicks={[12, 13, 14, 15, 16, 17]} fmt={(v: number) => String(v)} xLabels sets={coarseSets} />
      <NoisePanel box={BOX.h} varExp={varExpCoarse} align={alignCoarse} xLabels />
      <Overlay />
    </div>
  );
}
